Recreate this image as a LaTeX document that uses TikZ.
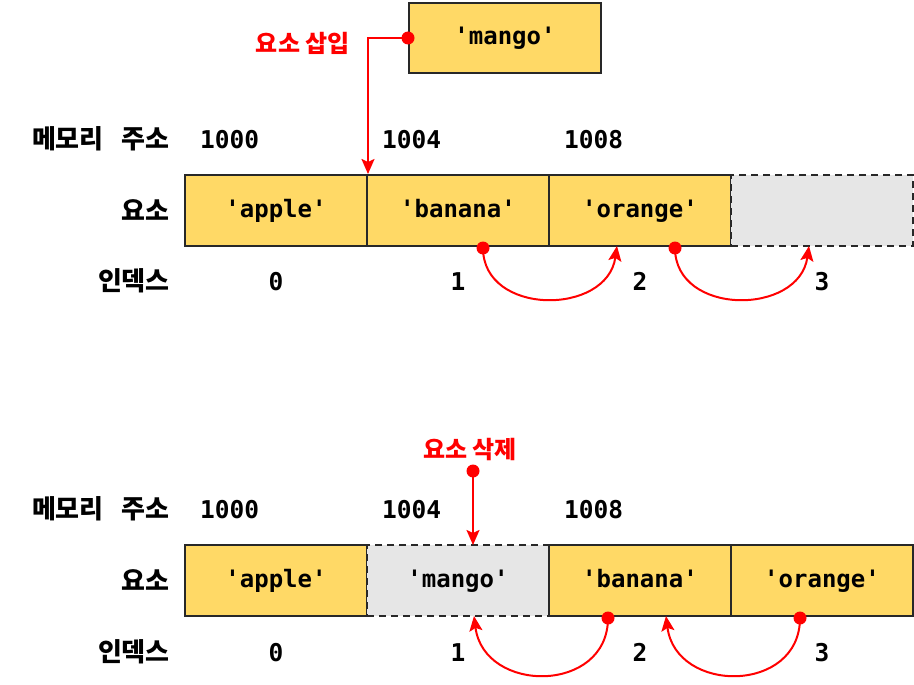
\documentclass[tikz,border=0pt]{standalone}
\usepackage{fontspec}
\setmonofont{DejaVu Sans Mono}
\newfontfamily\kr{Noto Sans CJK KR}
\usetikzlibrary{arrows.meta}
\definecolor{cellyellow}{RGB}{255,217,102}
\definecolor{cellgray}{RGB}{230,230,230}
\definecolor{edgegray}{RGB}{40,40,40}
\definecolor{hotred}{RGB}{255,0,0}
\tikzset{
  cell/.style={draw=edgegray, line width=2pt, fill=cellyellow, minimum width=182pt, minimum height=71pt, inner sep=0pt, text height=18pt, text depth=4pt, font=\ttfamily\bfseries\fontsize{24}{28}\selectfont},
  emptycell/.style={cell, fill=cellgray, dash pattern=on 7pt off 5pt},
  rowlabel/.style={anchor=east, inner sep=0pt, font=\kr\bfseries\fontsize{26}{30}\selectfont},
  numtext/.style={inner sep=0pt, text height=18pt, text depth=0pt, font=\ttfamily\bfseries\fontsize{24.5}{28}\selectfont},
  redlabel/.style={inner sep=0pt, text=hotred, font=\kr\bfseries\fontsize{24}{28}\selectfont},
  reddot/.style={circle, fill=hotred, inner sep=0pt, minimum size=13pt},
  redarrow/.style={draw=hotred, line width=2pt, -{Stealth[length=15pt,width=13pt,inset=3pt]}},
}
\begin{document}
\begin{tikzpicture}[x=1pt,y=-1pt]
\useasboundingbox (0,0) rectangle (914,685);
% ---------- top: insertion ----------
\node[cell, minimum width=192pt, minimum height=70pt] (mango) at (505,38) {'mango'};
\node[reddot] (mdot) at (mango.west) {};
\node[redlabel, anchor=east] (ins) at (350,43) {요소 삽입};

\node[rowlabel] (addr1) at (170,139) {메모리\hspace{0.7em}주소};
\node[rowlabel] (elem1) at (170,210) {요소};
\node[rowlabel] (idx1) at (170,281) {인덱스};

\node[cell] (t0) at (276,210.5) {'apple'};
\node[cell] (t1) at (458,210.5) {'banana'};
\node[cell] (t2) at (640,210.5) {'orange'};
\node[emptycell] (t3) at (822,210.5) {};

\node[numtext, anchor=west] (ta0) at (200,139) {1000};
\node[numtext, anchor=west] (ta1) at (382,139) {1004};
\node[numtext, anchor=west] (ta2) at (564,139) {1008};

\node[numtext] (ti0) at (276,281) {0};
\node[numtext] (ti1) at (458,281) {1};
\node[numtext] (ti2) at (640,281) {2};
\node[numtext] (ti3) at (822,281) {3};

\draw[redarrow] (mdot.center) -| (t0.north east);

\node[reddot] (td1) at (483,248) {};
\coordinate (te1) at (617,246);
\node[reddot] (td2) at (675,248) {};
\coordinate (te2) at (809,246);
\draw[redarrow] (td1.center) .. controls (483,316) and (607,316) .. (te1);
\draw[redarrow] (td2.center) .. controls (675,316) and (799,316) .. (te2);

% ---------- bottom: deletion ----------
\node[redlabel] (del) at (470,450) {요소 삭제};
\node[reddot] (ddot) at (473,471) {};

\node[rowlabel] (addr2) at (170,509) {메모리\hspace{0.7em}주소};
\node[rowlabel] (elem2) at (170,580) {요소};
\node[rowlabel] (idx2) at (170,652) {인덱스};

\node[cell] (b0) at (276,580.5) {'apple'};
\node[emptycell] (b1) at (458,580.5) {'mango'};
\node[cell] (b2) at (640,580.5) {'banana'};
\node[cell] (b3) at (822,580.5) {'orange'};

\node[numtext, anchor=west] (ba0) at (200,509) {1000};
\node[numtext, anchor=west] (ba1) at (382,509) {1004};
\node[numtext, anchor=west] (ba2) at (564,509) {1008};

\node[numtext] (bi0) at (276,652) {0};
\node[numtext] (bi1) at (458,652) {1};
\node[numtext] (bi2) at (640,652) {2};
\node[numtext] (bi3) at (822,652) {3};

\coordinate (dtop) at (473,545);
\draw[redarrow] (ddot.center) -- (dtop);

\node[reddot] (bd1) at (608,618) {};
\coordinate (be1) at (474,616);
\node[reddot] (bd2) at (800,618) {};
\coordinate (be2) at (666,616);
\draw[redarrow] (bd1.center) .. controls (608,694) and (484,694) .. (be1);
\draw[redarrow] (bd2.center) .. controls (800,694) and (676,694) .. (be2);
\end{tikzpicture}
\end{document}
